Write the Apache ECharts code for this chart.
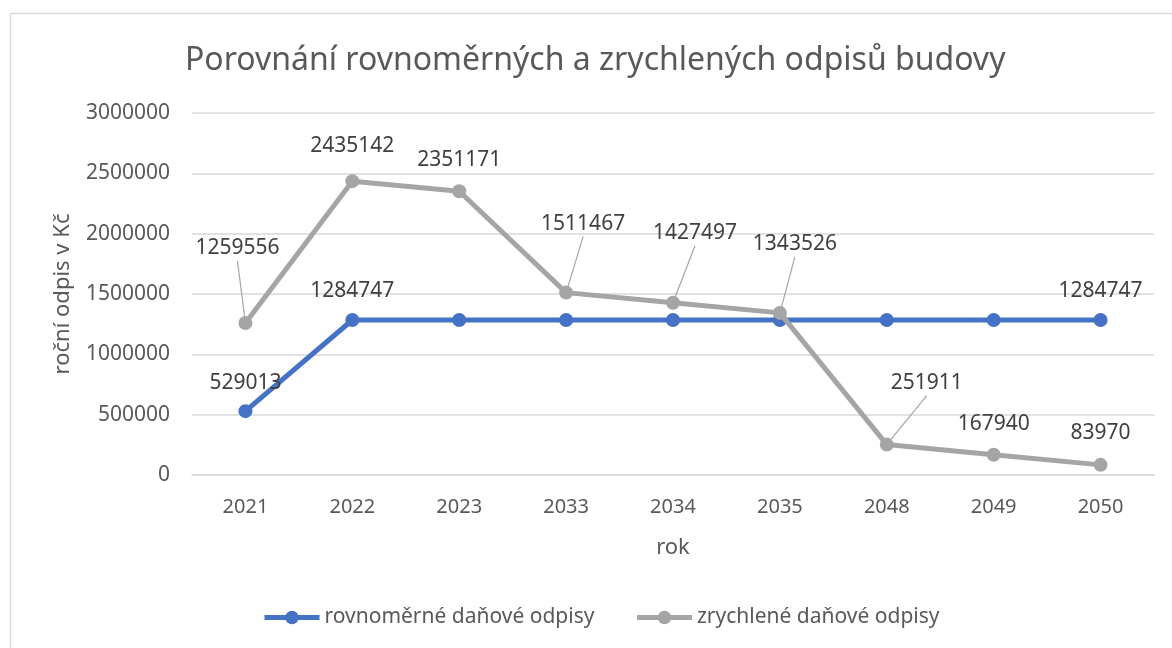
<!DOCTYPE html>
<html>
<head>
<meta charset="utf-8">
<script src="https://cdn.jsdelivr.net/npm/echarts@6/dist/echarts.min.js"></script>
<style>
  html, body { margin: 0; padding: 0; background: #fff; }
  #container { width: 1172px; height: 648px; }
</style>
</head>
<body>
<div id="container"></div>
<script>
// data
const years = ['2021', '2022', '2023', '2033', '2034', '2035', '2048', '2049', '2050'];
const rovnomerne = [529013, 1284747, 1284747, 1284747, 1284747, 1284747, 1284747, 1284747, 1284747];
const zrychlene = [1259556, 2435142, 2351171, 1511467, 1427497, 1343526, 251911, 167940, 83970];
// which blue labels are shown
const blueLabelShown = [true, true, false, false, false, false, false, false, true];

// label shifts (px) so the labels sit like in the excel chart
const grayShift = [[-8, -46], [0, -7], [0, -3], [17, -40], [22, -41], [15, -40], [40, -33], [0, -2], [0, -3]];
const grayLeader = [true, false, false, true, true, true, true, false, false];

const textColor = '#595959';
const fontFam = '"Noto Sans", sans-serif';

var dom = document.getElementById('container');
var myChart = echarts.init(dom, null, { renderer: 'canvas' });

var option = {
  animation: false,
  backgroundColor: '#fff',
  textStyle: { fontFamily: fontFam },
  title: {
    text: 'Porovnání rovnoměrných a zrychlených odpisů budovy',
    left: 180,
    top: 40,
    textStyle: { fontFamily: fontFam, fontSize: 32, fontWeight: 'normal', color: textColor }
  },
  graphic: [{
    type: 'rect',
    shape: { x: 10.5, y: 13.5, width: 1200, height: 700 },
    style: { fill: 'none', stroke: '#d9d9d9', lineWidth: 1.5 },
    silent: true
  }],
  legend: {
    top: 602,
    left: 257,
    itemWidth: 55,
    itemHeight: 17,
    itemGap: 40,
    lineStyle: { width: 5 },
    textStyle: { fontFamily: fontFam, fontSize: 21, color: textColor },
    data: ['rovnoměrné daňové odpisy', 'zrychlené daňové odpisy']
  },
  grid: { left: 192, right: 18, top: 113, bottom: 173 },
  xAxis: {
    type: 'category',
    data: years,
    boundaryGap: true,
    name: 'rok',
    nameLocation: 'middle',
    nameGap: 62,
    nameTextStyle: { fontFamily: fontFam, fontSize: 22, color: textColor },
    axisLine: { lineStyle: { color: '#d9d9d9', width: 1.5 } },
    axisTick: { show: false },
    axisLabel: { fontFamily: fontFam, fontSize: 20, color: textColor, margin: 22 }
  },
  yAxis: {
    type: 'value',
    min: 0,
    max: 3000000,
    interval: 500000,
    name: 'roční odpis v Kč',
    nameLocation: 'middle',
    nameGap: 118,
    nameTextStyle: { fontFamily: fontFam, fontSize: 22, color: textColor },
    axisLine: { show: false },
    axisTick: { show: false },
    splitLine: { lineStyle: { color: '#d9d9d9', width: 1.5 } },
    axisLabel: {
      fontFamily: fontFam, fontSize: 21, color: textColor, margin: 22,
      formatter: function (v) { return String(v); }
    }
  },
  series: [
    {
      name: 'rovnoměrné daňové odpisy',
      type: 'line',
      data: rovnomerne.map((v, i) => ({
        value: v,
        label: { show: blueLabelShown[i] }
      })),
      symbol: 'circle',
      symbolSize: 14,
      z: 2,
      lineStyle: { color: '#4472C4', width: 5 },
      itemStyle: { color: '#4472C4' },
      label: {
        show: true,
        position: 'top',
        distance: 11,
        fontFamily: fontFam,
        fontSize: 21,
        color: '#404040'
      }
    },
    {
      name: 'zrychlené daňové odpisy',
      type: 'line',
      data: zrychlene,
      symbol: 'circle',
      symbolSize: 14,
      z: 3,
      lineStyle: { color: '#A5A5A5', width: 5 },
      itemStyle: { color: '#A5A5A5' },
      label: {
        show: true,
        position: 'top',
        distance: 11,
        fontFamily: fontFam,
        fontSize: 21,
        color: '#404040'
      },
      labelLayout: function (p) {
        const s = grayShift[p.dataIndex];
        return { dx: s[0], dy: s[1] };
      }
    }
  ]
};

if (option && typeof option === 'object') {
  myChart.setOption(option);
}

// leader lines: from under the moved label to the marker edge
var leaders = [];
zrychlene.forEach((v, i) => {
  if (!grayLeader[i]) return;
  const pt = myChart.convertToPixel({ seriesIndex: 1 }, [i, v]);
  const s = grayShift[i];
  const x1 = pt[0] + s[0];
  const y1 = pt[1] - 31 + s[1] + 15;
  const vx = x1 - pt[0], vy = y1 - pt[1];
  const len = Math.sqrt(vx * vx + vy * vy) || 1;
  leaders.push({
    type: 'line',
    silent: true,
    z: 10,
    shape: { x1: x1, y1: y1, x2: pt[0] + vx / len * 5, y2: pt[1] + vy / len * 5 },
    style: { stroke: '#A5A5A5', lineWidth: 1.2 }
  });
});
myChart.setOption({ graphic: option.graphic.concat(leaders) });
</script>
</body>
</html>
